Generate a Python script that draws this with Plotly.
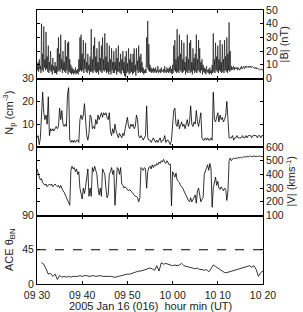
import datetime as dt
import plotly.graph_objects as go

START = dt.datetime(2005, 1, 16, 9, 30)
END = dt.datetime(2005, 1, 16, 10, 20)

# |B| (nT), 7.5-s cadence from 09:30 (8 samples per minute, one row per minute)
B_DT_MIN = 0.125
B_nT = [
    10, 6, 12, 5, 14, 7, 9, 4,
    40, 6, 18, 5, 38, 8, 14, 6,
    34, 7, 16, 5, 24, 4, 12, 6,
    20, 5, 10, 3, 15, 6, 9, 4,
    12, 4, 9, 3, 22, 5, 30, 6,
    18, 5, 32, 7, 14, 4, 20, 6,
    12, 5, 28, 4, 16, 6, 26, 3,
    27, 5, 14, 4, 10, 3, 8, 4,
    7, 3, 6, 4, 8, 3, 6, 4,
    7, 3, 14, 5, 30, 6, 32, 5,
    18, 6, 28, 4, 14, 7, 26, 5,
    12, 4, 18, 6, 10, 3, 16, 5,
    36, 5, 14, 4, 24, 6, 30, 5,
    16, 4, 22, 5, 12, 3, 27, 6,
    15, 5, 24, 4, 30, 6, 14, 5,
    33, 6, 16, 4, 26, 5, 12, 3,
    24, 5, 14, 3, 22, 6, 12, 4,
    20, 4, 12, 6, 22, 3, 15, 5,
    24, 5, 12, 4, 18, 3, 14, 6,
    20, 4, 12, 2, 16, 1, 20, 4,
    11, 5, 22, 3, 14, 4, 18, 5,
    12, 3, 18, 4, 22, 5, 10, 2,
    22, 6, 13, 4, 24, 5, 16, 4,
    18, 5, 12, 4, 8, 3, 6, 4,
    7, 4, 30, 8, 42, 6, 25, 5,
    10, 5, 8, 4, 7, 5, 8, 4,
    7, 5, 8, 4, 6, 5, 9, 4,
    6, 5, 7, 4, 8, 5, 6, 5,
    7, 4, 9, 5, 6, 4, 8, 5,
    7, 4, 8, 5, 9, 4, 7, 3,
    10, 4, 24, 6, 28, 5, 14, 4,
    36, 5, 16, 4, 32, 6, 18, 5,
    28, 4, 14, 5, 26, 6, 12, 3,
    16, 5, 32, 4, 14, 6, 26, 4,
    28, 5, 12, 3, 22, 6, 15, 4,
    18, 5, 32, 4, 14, 6, 28, 5,
    22, 4, 12, 6, 14, 3, 10, 5,
    8, 4, 7, 3, 9, 5, 6, 4,
    7, 3, 8, 4, 6, 3, 10, 4,
    33, 5, 14, 4, 26, 6, 16, 5,
    24, 4, 14, 6, 28, 5, 12, 4,
    25, 5, 14, 4, 28, 6, 16, 5,
    30, 4, 18, 6, 41, 5, 20, 6,
    9, 6, 8, 7, 9, 6, 8, 7,
    8, 7, 8, 6, 8, 7, 7, 6,
    8, 7, 9, 7, 8, 8, 9, 7,
    8, 9, 8, 9, 8, 9, 9, 8,
    9, 8, 9, 8, 8, 9, 8, 8,
    8, 7, 8, 8, 7, 8, 7, 7,
    7, 7, 7, 6, 7, 7, 7, 6,
    7,
]

# Np (cm^-3), 15-s cadence from 09:30
NP_DT_MIN = 0.25
Np = [
    4, 5, 1, 4,     14, 24, 15, 12,  14, 10, 22, 5,   8, 7, 8, 7,
    8, 9, 8, 9,     17, 12, 16, 10,  9, 10, 9, 23,    26, 3, 2, 3,
    2, 3, 2, 3,     3, 2, 12, 14,    12, 14, 19, 10,  5, 3, 6, 14,
    13, 8, 9, 8,    12, 10, 14, 12,  14, 15, 13, 15,  14, 15, 13, 12,
    15, 7, 5, 8,    6, 10, 7, 5,     4, 6, 5, 4,      6, 5, 8, 10,
    13, 9, 8, 10,   9, 10, 8, 9,     14, 12, 5, 4,    5, 4, 3, 4,
    5, 18, 4, 3,    3, 2, 3, 4,      3, 2, 3, 2,      3, 4, 2, 3,
    3, 5, 2, 3,     3, 2, 1, 3,      12, 16, 17, 10,  9, 12, 8, 10,
    11, 9, 10, 8,   10, 12, 9, 11,   18, 10, 9, 11,   10, 16, 11, 9,
    12, 15, 4, 3,   3, 4, 3, 4,      3, 3, 4, 3,      24, 12, 11, 13,
    15, 11, 14, 12, 13, 11, 12, 14,  20, 12, 4, 4,    4, 5, 3, 4,
    4, 5, 4, 4,     4, 4, 5, 4,      4, 5, 4, 5,      5, 5, 4, 5,
    5, 5, 5, 4,     5, 5, 4, 5,      5,
]

# |V| (km/s), 15-s cadence from 09:30
V_DT_MIN = 0.25
V_kms = [
    440, 400, 380, 360,  370, 340, 330, 320,  330, 310, 320, 330,  320, 330, 310, 320,
    330, 320, 310, 320,  300, 320, 290, 280,  270, 250, 230, 220,  200, 175, 430, 460,
    440, 450, 420, 440,  400, 420, 300, 250,  220, 300, 260, 310,  400, 440, 240, 300,
    240, 450, 420, 460,  430, 400, 300, 250,  300, 240, 440, 420,  400, 300, 230, 250,
    400, 420, 450, 400,  430, 175, 300, 450,  440, 400, 450, 330,  320, 300, 310, 300,
    290, 280, 290, 280,  270, 260, 250, 240,  240, 230, 200, 230,  450, 440, 430, 450,
    440, 300, 420, 450,  460, 440, 470, 450,  470, 460, 480, 470,  490, 480, 500, 490,
    510, 490, 480, 500,  480, 470, 475, 170,  420, 400, 380, 410,  360, 350, 340, 320,
    310, 300, 280, 260,  250, 220, 210, 200,  230, 200, 220, 230,  250, 190, 280, 300,
    230, 200, 220, 230,  400, 430, 450, 470,  430, 480, 440, 160,  300, 340, 380, 320,
    350, 300, 290, 310,  290, 280, 300, 290,  210, 280, 500, 520,  500, 510, 520, 515,
    520, 515, 525, 520,  525, 520, 528, 525,  530, 525, 532, 528,  530, 535, 528, 532,
    535, 530, 533, 530,  532, 535, 530, 528,  530,
]

# ACE theta_BN (deg), 30-s cadence from 09:31
TH_START_MIN = 1.0
TH_DT_MIN = 0.5
theta_BN = [
    28, 26, 20, 13, 14, 10, 13, 6, 11, 9,
    10, 9, 10, 9, 10, 10, 10, 11, 10, 11,
    11, 10, 11, 11, 10, 11, 11, 10, 10, 10,
    10, 10, 9, 9, 10, 11, 12, 12, 13, 13,
    14, 15, 16, 17, 17, 18, 19, 20, 21, 20,
    18, 24, 17, 28, 26, 27, 26, 25, 24, 25,
    24, 25, 27, 24, 23, 22, 22, 21, 20, 21,
    19, 19, 18, 19, 16, 20, 25, 23, 21, 19,
    16, 15, 15, 16, 16, 17, 18, 19, 20, 21,
    22, 23, 24, 22, 24, 19, 10, 15, 17,
]
THETA_REF = 45

X_TICKS = ["09:30", "09:40", "09:50", "10:00", "10:10", "10:20"]


def times(n, dt_min, start_min=0.0):
    return [START + dt.timedelta(minutes=start_min + i * dt_min) for i in range(n)]


FONT = dict(family="Liberation Sans, Arial, sans-serif", size=11, color="#222")
TICKFONT = dict(family="Liberation Sans, Arial, sans-serif", size=10.5, color="#222")
LINE = dict(color="black", width=0.8)

fig = go.Figure()
fig.add_trace(go.Scatter(x=times(len(B_nT), B_DT_MIN), y=B_nT, mode="lines",
                         line=dict(color="black", width=0.6), xaxis="x", yaxis="y"))
fig.add_trace(go.Scatter(x=times(len(Np), NP_DT_MIN), y=Np, mode="lines",
                         line=LINE, xaxis="x2", yaxis="y2"))
fig.add_trace(go.Scatter(x=times(len(V_kms), V_DT_MIN), y=V_kms, mode="lines",
                         line=LINE, xaxis="x3", yaxis="y3"))
fig.add_trace(go.Scatter(x=times(len(theta_BN), TH_DT_MIN, TH_START_MIN), y=theta_BN,
                         mode="lines", line=LINE, xaxis="x4", yaxis="y4"))

tickvals = [dt.datetime.strptime("2005-01-16 " + t, "%Y-%m-%d %H:%M") for t in X_TICKS]

common_x = dict(type="date", range=[START, END], showline=True, linecolor="black",
                linewidth=1, mirror="ticks", ticks="inside", ticklen=3,
                tickcolor="black", tickvals=tickvals, tickformat="%H %M",
                showgrid=False, zeroline=False, tickfont=TICKFONT)
common_y = dict(showline=True, linecolor="black", linewidth=1, mirror="ticks",
                ticks="inside", ticklen=3, tickcolor="black", showgrid=False,
                zeroline=False, tickfont=TICKFONT)

layout = dict(
    width=303, height=312,
    margin=dict(l=37, r=40, t=4, b=28),
    paper_bgcolor="white", plot_bgcolor="white",
    showlegend=False, font=FONT,
    xaxis=dict(common_x, anchor="y", showticklabels=False),
    xaxis2=dict(common_x, anchor="y2", matches="x", showticklabels=False),
    xaxis3=dict(common_x, anchor="y3", matches="x", showticklabels=False),
    xaxis4=dict(common_x, anchor="y4", matches="x", showticklabels=True,
                ticklabelstandoff=1),
    yaxis=dict(common_y, domain=[0.75, 1], range=[0, 50], side="right",
               tickvals=[0, 10, 20, 30, 40, 50],
               title=dict(text="|B| (nT)", font=FONT, standoff=3)),
    yaxis2=dict(common_y, domain=[0.5, 0.75], range=[0, 30], side="left",
                tickvals=[0, 10, 20, 30],
                title=dict(text="N<sub>p</sub> (cm<sup>-3</sup>)", font=FONT, standoff=6)),
    yaxis3=dict(common_y, domain=[0.25, 0.5], range=[100, 600], side="right",
                tickvals=[100, 200, 300, 400, 500, 600],
                title=dict(text="|V| (kms<sup>-1</sup>)", font=FONT, standoff=3)),
    yaxis4=dict(common_y, domain=[0, 0.25], range=[0, 90], side="left",
                tickvals=[0, 45, 90],
                title=dict(text="ACE θ<sub>BN</sub>", font=FONT, standoff=6)),
    shapes=[dict(type="line", xref="x4 domain", yref="y4", x0=0, x1=1,
                 y0=THETA_REF, y1=THETA_REF,
                 line=dict(color="black", width=1, dash="dash"))],
    annotations=[dict(text="2005 Jan 16 (016)  hour min (UT)", xref="paper",
                      yref="paper", x=0.5, y=0, yanchor="middle", yshift=-22,
                      showarrow=False, font=FONT)],
)
fig.update_layout(layout)
fig.write_html("out.html")
